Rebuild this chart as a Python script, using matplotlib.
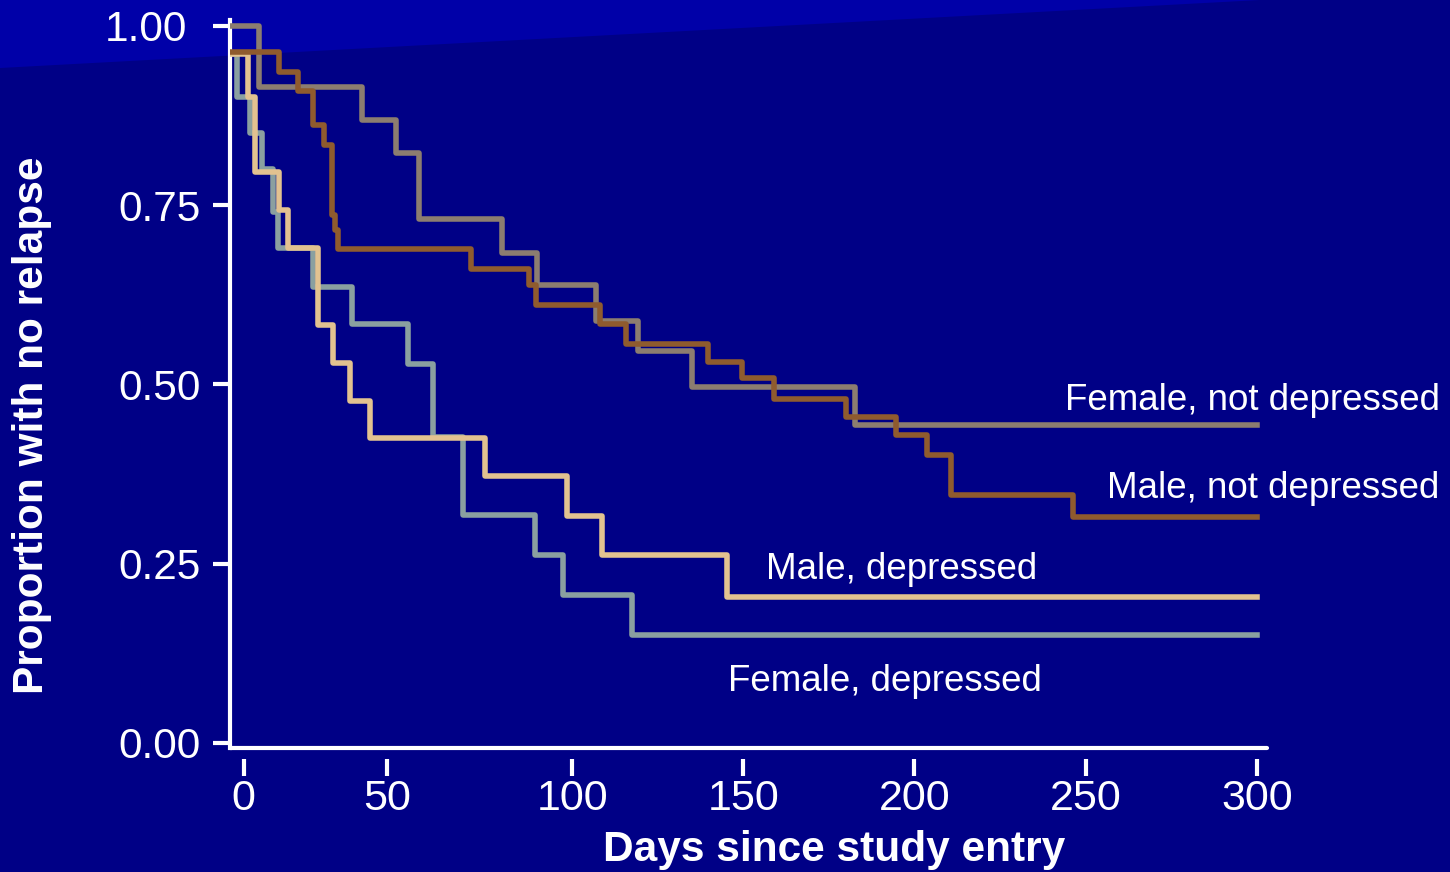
import matplotlib
matplotlib.use("Agg")
import matplotlib.pyplot as plt
from matplotlib.patches import Polygon
from matplotlib.transforms import ScaledTranslation

# ---- data (Kaplan-Meier step curves) ----
fnd_t = [0, 8.5, 38.6, 48.5, 55.2, 79.5, 89.7, 106.9, 119.2, 135.0, 182.6, 300]
fnd_s = [1.00, 0.915, 0.868, 0.823, 0.731, 0.683, 0.638, 0.589, 0.546, 0.496, 0.443, 0.443]

mnd_t = [0, 14.3, 19.9, 24.2, 27.5, 29.8, 30.7, 31.6, 70.4, 87.4, 89.4, 108.1, 115.7,
         139.6, 149.6, 158.9, 180.0, 194.6, 203.6, 210.6, 246.3, 300]
mnd_s = [0.964, 0.936, 0.909, 0.862, 0.834, 0.736, 0.715, 0.689, 0.661, 0.639, 0.611,
         0.584, 0.556, 0.531, 0.509, 0.480, 0.455, 0.430, 0.402, 0.346, 0.315, 0.315]

md_t = [0, 5.3, 7.3, 14.3, 16.9, 25.7, 30.1, 35.1, 40.9, 74.5, 98.5, 108.7, 145.2, 300]
md_s = [0.96, 0.90, 0.796, 0.743, 0.690, 0.583, 0.530, 0.477, 0.425, 0.372, 0.317,
        0.262, 0.204, 0.204]

fd_t = [0, 2.0, 5.8, 9.3, 12.6, 14.0, 24.2, 35.6, 52.0, 59.3, 68.1, 89.1, 97.3, 117.4, 300]
fd_s = [0.96, 0.90, 0.85, 0.80, 0.74, 0.69, 0.636, 0.584, 0.529, 0.427, 0.318, 0.262,
        0.206, 0.151, 0.151]

labels = ["Female, not depressed", "Male, not depressed", "Male, depressed", "Female, depressed"]
ytick_vals = [0.0, 0.25, 0.50, 0.75, 1.00]
ytick_labels = ["0.00", "0.25", "0.50", "0.75", "1.00"]
xtick_labels = ["0", "50", "100", "150", "200", "250", "300"]

# ---- style ----
BG = "#000086"
BAND = "#0000A8"
C_FND = "#8C7D70"
C_MND = "#8F5B2E"
C_MD = "#E2C290"
C_FD = "#8AA0A0"
FONT = "Liberation Sans"

plt.rcParams["font.family"] = [FONT, "DejaVu Sans"]

W, H = 1450, 872
fig = plt.figure(figsize=(W / 100, H / 100), dpi=100, facecolor=BG)
band = Polygon([[0, 1], [0, 1 - 68 / H], [1260 / W, 1]], closed=True,
               transform=fig.transFigure, facecolor=BAND, edgecolor="none", zorder=-1)
fig.add_artist(band)

ax = fig.add_axes([230 / W, 1 - 748 / H, (1267 - 230) / W, (748 - 20) / H])
ax.set_facecolor("none")

lw = 4.0
ax.step(fd_t, fd_s, where="post", color=C_FD, lw=lw, zorder=2)
ax.step(md_t, md_s, where="post", color=C_MD, lw=lw, zorder=3)
ax.step(fnd_t, fnd_s, where="post", color=C_FND, lw=lw, zorder=4)
ax.step(mnd_t, mnd_s, where="post", color=C_MND, lw=lw, zorder=5)

ax.set_xlim(0, 303)
ax.set_ylim(-0.007, 1.008)

for s in ["top", "right"]:
    ax.spines[s].set_visible(False)
ax.spines["left"].set_color("white")
ax.spines["left"].set_linewidth(3)
ax.spines["bottom"].set_position(("outward", 8))
ax.spines["bottom"].set_color("none")
ax.axhline(-0.007, color="white", lw=3, clip_on=False, solid_capstyle="round", zorder=6)

ax.set_yticks(ytick_vals)
ax.set_yticklabels(ytick_labels)
# x tick positions as they appear on the slide
ax.set_xticks([4, 46, 100, 150, 200, 250, 300])
ax.set_xticklabels(xtick_labels)
ax.tick_params(axis="y", colors="white", length=12, width=3, pad=9, labelsize=30.5)
ax.tick_params(axis="x", colors="white", length=12, width=3, pad=2, labelsize=31)

# the top y label sits a bit further left on the slide
top_lab = ax.get_yticklabels()[-1]
top_lab.set_transform(top_lab.get_transform() + ScaledTranslation(-0.14, 0, fig.dpi_scale_trans))

fig.text(834 / W, 1 - 850 / H, "Days since study entry", color="white", fontsize=30.5,
         fontweight="bold", ha="center", va="center")
fig.text(32 / W, 1 - 425 / H, "Proportion with no relapse", color="white", fontsize=30.5,
         fontweight="bold", ha="center", va="center", rotation=90)

tk = dict(color="white", fontsize=26.5, va="center", clip_on=False)
ax.text(353.5, 0.478, labels[0], ha="right", **tk)
ax.text(353.5, 0.355, labels[1], ha="right", **tk)
ax.text(156.6, 0.242, labels[2], ha="left", **tk)
ax.text(145.5, 0.086, labels[3], ha="left", **tk)

fig.savefig("out.png", dpi=100, facecolor=BG)
